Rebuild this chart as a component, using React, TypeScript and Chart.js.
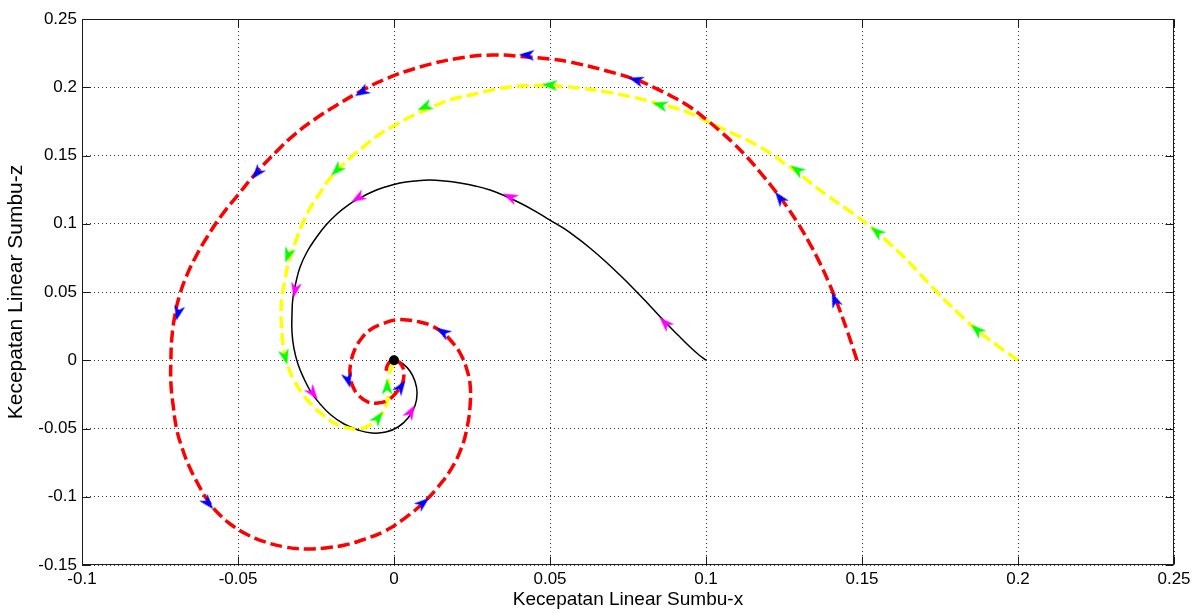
import React, { useEffect, useRef } from 'react';
import { Chart, registerables } from 'chart.js';

Chart.register(...registerables);

// Axis ticks
const xTicks = [-0.1, -0.05, 0, 0.05, 0.1, 0.15, 0.2, 0.25];
const yTicks = [-0.15, -0.1, -0.05, 0, 0.05, 0.1, 0.15, 0.2, 0.25];
const xTitle = 'Kecepatan Linear Sumbu-x';
const yTitle = 'Kecepatan Linear Sumbu-z';

// Black trajectory (start 0.1, 0)
const blackX = [0.1, 0.0974, 0.0949, 0.091, 0.0869, 0.0821, 0.0772, 0.0724, 0.0676, 0.0628, 0.0587, 0.0542, 0.05, 0.0452, 0.0404, 0.0356, 0.0308, 0.026, 0.0212, 0.0163, 0.0115, 0.0067, 0.0019, -0.0029, -0.0071, -0.0109, -0.0147, -0.0183, -0.0218, -0.025, -0.0279, -0.0301, -0.0314, -0.0324, -0.0327, -0.0327, -0.0321, -0.0308, -0.0288, -0.0266, -0.0237, -0.0202, -0.016, -0.0115, -0.0071, -0.0026, 0.0013, 0.0045, 0.0067, 0.0074, 0.0067, 0.0051, 0.0029, 0.001, 0];
const blackY = [0, 0.0046, 0.0097, 0.0185, 0.028, 0.0397, 0.0515, 0.0624, 0.0727, 0.0822, 0.0896, 0.0969, 0.1027, 0.1093, 0.1152, 0.1203, 0.1247, 0.1277, 0.1298, 0.1313, 0.132, 0.1313, 0.1298, 0.1269, 0.1233, 0.1189, 0.1137, 0.1071, 0.0991, 0.0896, 0.0793, 0.0683, 0.0573, 0.0456, 0.0332, 0.0207, 0.009, -0.0027, -0.0137, -0.0233, -0.032, -0.0401, -0.0467, -0.0511, -0.0533, -0.0526, -0.0489, -0.0423, -0.0335, -0.024, -0.0152, -0.0079, -0.0027, -0.0005, 0];
const blackArrowX = [0.0869, 0.0372, -0.0115, -0.0317, -0.026, 0.0054];
const blackArrowY = [0.0273, 0.1196, 0.1189, 0.0515, -0.024, -0.0379];

// Red trajectory (start 0.15, 0)
const redX = [0.1484, 0.1455, 0.1426, 0.1397, 0.1365, 0.133, 0.1292, 0.1253, 0.1212, 0.1173, 0.1131, 0.1087, 0.1045, 0.1003, 0.0949, 0.0894, 0.083, 0.0779, 0.0683, 0.0564, 0.05, 0.0426, 0.0317, 0.0212, 0.0083, -0.0035, -0.0099, -0.0183, -0.0253, -0.0317, -0.0375, -0.0439, -0.0503, -0.0554, -0.0599, -0.0636, -0.0665, -0.0687, -0.0702, -0.0712, -0.0715, -0.0715, -0.0708, -0.0696, -0.0679, -0.0657, -0.0628, -0.0596, -0.0558, -0.0516, -0.0468, -0.0413, -0.0349, -0.0285, -0.0221, -0.0157, -0.0093, -0.0029, 0.0035, 0.0093, 0.0141, 0.0183, 0.0215, 0.0234, 0.0244, 0.0244, 0.0234, 0.0215, 0.0189, 0.0157, 0.0122, 0.0083, 0.0042, 0.0003, -0.0038, -0.0077, -0.0103, -0.0125, -0.0138, -0.0141, -0.0131, -0.0112, -0.0083, -0.0051, -0.0019, 0.0006, 0.0026, 0.0032, 0.0026, 0.001, -0.001, -0.0022, -0.0026];
const redY = [0, 0.02, 0.0383, 0.0551, 0.0712, 0.0866, 0.1013, 0.1145, 0.1269, 0.1379, 0.1489, 0.1592, 0.1679, 0.176, 0.1855, 0.1929, 0.2002, 0.2053, 0.2119, 0.2185, 0.2207, 0.2222, 0.2236, 0.2214, 0.2148, 0.2053, 0.198, 0.187, 0.1767, 0.1657, 0.1533, 0.1379, 0.1203, 0.1057, 0.0903, 0.0756, 0.0617, 0.0478, 0.0332, 0.0163, 0.0002, -0.0167, -0.0328, -0.0511, -0.0643, -0.0775, -0.0907, -0.1031, -0.1134, -0.1214, -0.128, -0.1331, -0.1368, -0.1383, -0.1375, -0.1353, -0.131, -0.1251, -0.1156, -0.1046, -0.0929, -0.0797, -0.065, -0.0496, -0.0328, -0.0181, -0.0071, 0.0038, 0.0126, 0.02, 0.0251, 0.028, 0.0295, 0.0295, 0.0266, 0.0222, 0.0163, 0.0082, -0.0013, -0.0108, -0.0196, -0.0262, -0.0306, -0.0313, -0.0291, -0.024, -0.0174, -0.0101, -0.0042, -0.0005, -0.0005, -0.0042, -0.0086];
const redArrowX = [0.1413, 0.1237, 0.0776, 0.0426, -0.0103, -0.0439, -0.0692, -0.0596, 0.0093, 0.0157, -0.0147, 0.0022];
const redArrowY = [0.0442, 0.1188, 0.2053, 0.2236, 0.1965, 0.1372, 0.0347, -0.1046, -0.1046, 0.0207, -0.0145, -0.0196];

// Yellow trajectory (start 0.2, 0)
const yellowX = [0.2, 0.1936, 0.1872, 0.1808, 0.174, 0.1686, 0.1631, 0.159, 0.1551, 0.15, 0.1446, 0.1391, 0.134, 0.1292, 0.1253, 0.1215, 0.1173, 0.1131, 0.1083, 0.1035, 0.099, 0.0949, 0.0901, 0.0853, 0.0804, 0.0756, 0.0683, 0.0596, 0.0548, 0.05, 0.0452, 0.0404, 0.0349, 0.0298, 0.0244, 0.0189, 0.0144, 0.0099, 0.0051, 0.001, -0.0045, -0.0099, -0.0141, -0.0183, -0.0212, -0.0237, -0.0269, -0.0295, -0.0317, -0.0337, -0.0349, -0.0359, -0.0362, -0.0359, -0.0353, -0.034, -0.0321, -0.0295, -0.0263, -0.0228, -0.0186, -0.0147, -0.0115, -0.0083, -0.0054, -0.0032, -0.0019, -0.0019, -0.0016, -0.0006, 0];
const yellowY = [0, 0.0104, 0.0214, 0.0346, 0.05, 0.0632, 0.0764, 0.0852, 0.0932, 0.1027, 0.1115, 0.1203, 0.1291, 0.1379, 0.1438, 0.1504, 0.1562, 0.1614, 0.1665, 0.1716, 0.1767, 0.1811, 0.1848, 0.1877, 0.1907, 0.1932, 0.1965, 0.1994, 0.2005, 0.2013, 0.2013, 0.2009, 0.1994, 0.1972, 0.1943, 0.1914, 0.1877, 0.1833, 0.1782, 0.1731, 0.1657, 0.1562, 0.1482, 0.1386, 0.1313, 0.1225, 0.1115, 0.0991, 0.0859, 0.0727, 0.0595, 0.0463, 0.0332, 0.02, 0.0075, -0.0042, -0.0145, -0.024, -0.0328, -0.0401, -0.0467, -0.0496, -0.0504, -0.0482, -0.043, -0.0364, -0.0277, -0.0189, -0.0108, -0.0042, -0.0005];
const yellowArrowX = [0.1869, 0.1548, 0.1292, 0.0853, 0.05, 0.0099, -0.0183, -0.034, -0.0349, -0.0051, -0.0022];
const yellowArrowY = [0.0222, 0.094, 0.1394, 0.187, 0.2016, 0.1856, 0.1394, 0.0771, 0.0024, -0.0423, -0.0196];

// Equilibrium point
const originX = [0];
const originY = [0];

const zip = (xs: number[], ys: number[]) => xs.map((x, i) => ({ x, y: ys[i] }));

function makeArrowImage(color: string) {
  const c = document.createElement('canvas');
  c.width = 22;
  c.height = 22;
  const g = c.getContext('2d')!;
  g.fillStyle = color;
  g.beginPath();
  g.moveTo(11, 3);
  g.lineTo(16.5, 18.5);
  g.lineTo(11, 14);
  g.lineTo(5.5, 18.5);
  g.closePath();
  g.fill();
  return c;
}

function directionRotation(cx: number[], cy: number[]) {
  return (ctx: any) => {
    const chart = ctx.chart;
    const raw = ctx.raw;
    const xs = chart.scales.x;
    const ys = chart.scales.y;
    if (!raw || !xs || !ys) return 0;
    const ax = xs.getPixelForValue(raw.x);
    const ay = ys.getPixelForValue(raw.y);
    let best = Infinity;
    let dx = 0;
    let dy = -1;
    for (let i = 0; i < cx.length - 1; i++) {
      const x1 = xs.getPixelForValue(cx[i]);
      const y1 = ys.getPixelForValue(cy[i]);
      const x2 = xs.getPixelForValue(cx[i + 1]);
      const y2 = ys.getPixelForValue(cy[i + 1]);
      const vx = x2 - x1;
      const vy = y2 - y1;
      const len2 = vx * vx + vy * vy || 1e-9;
      let t = ((ax - x1) * vx + (ay - y1) * vy) / len2;
      t = Math.max(0, Math.min(1, t));
      const px = x1 + t * vx;
      const py = y1 + t * vy;
      const d = (ax - px) * (ax - px) + (ay - py) * (ay - py);
      if (d < best) {
        best = d;
        dx = vx;
        dy = vy;
      }
    }
    return (Math.atan2(dx, -dy) * 180) / Math.PI;
  };
}

const framePlugin = {
  id: 'matlabFrame',
  afterDatasetsDraw(chart: any) {
    const { ctx, chartArea: a, scales } = chart;
    const L = Math.round(a.left) + 0.5;
    const R = Math.round(a.right) - 0.5;
    const T = Math.round(a.top) + 0.5;
    const B = Math.round(a.bottom) - 0.5;
    const tl = 8;
    ctx.save();
    ctx.strokeStyle = '#1a1a1a';
    ctx.lineWidth = 1;
    ctx.beginPath();
    xTicks.forEach((v) => {
      const p = Math.round(scales.x.getPixelForValue(v)) + 0.5;
      ctx.moveTo(p, B);
      ctx.lineTo(p, B - tl);
      ctx.moveTo(p, T);
      ctx.lineTo(p, T + tl);
    });
    yTicks.forEach((v) => {
      const p = Math.round(scales.y.getPixelForValue(v)) + 0.5;
      ctx.moveTo(L, p);
      ctx.lineTo(L + tl, p);
      ctx.moveTo(R, p);
      ctx.lineTo(R - tl, p);
    });
    ctx.stroke();
    ctx.strokeRect(L, T, R - L, B - T);
    ctx.restore();
  },
};

const fmt = (v: number) => String(Number(Number(v).toFixed(2)));

export default function App() {
  const ref = useRef<HTMLCanvasElement>(null);

  useEffect(() => {
    if (!ref.current) return;
    Chart.defaults.font.family = '"Liberation Sans", Arial, sans-serif';
    Chart.defaults.color = '#000';

    const blue = makeArrowImage('#0000ff');
    const green = makeArrowImage('#00ff00');
    const magenta = makeArrowImage('#ff00ff');

    const curve = (data: any[], color: string, width: number, dash: number[], order: number) => ({
      type: 'line',
      data,
      showLine: true,
      fill: false,
      borderColor: color,
      borderWidth: width,
      borderDash: dash,
      pointRadius: 0,
      tension: 0.45,
      order,
    });

    const chart = new Chart(ref.current, {
      type: 'scatter',
      data: {
        datasets: [
          {
            label: 'origin',
            data: zip(originX, originY),
            pointRadius: 5,
            pointBackgroundColor: '#000',
            pointBorderWidth: 0,
            order: 0,
          } as any,
          {
            label: 'black arrows',
            data: zip(blackArrowX, blackArrowY),
            pointStyle: magenta,
            pointRadius: 7,
            rotation: directionRotation(blackX, blackY),
            order: 1,
          },
          {
            label: 'red arrows',
            data: zip(redArrowX, redArrowY),
            pointStyle: blue,
            pointRadius: 7,
            rotation: directionRotation(redX, redY),
            order: 1,
          },
          {
            label: 'yellow arrows',
            data: zip(yellowArrowX, yellowArrowY),
            pointStyle: green,
            pointRadius: 7,
            rotation: directionRotation(yellowX, yellowY),
            order: 1,
          },
          { label: 'red', ...curve(zip(redX, redY), '#ff0000', 3.5, [12, 5], 2) },
          { label: 'yellow', ...curve(zip(yellowX, yellowY), '#ffff00', 3.5, [12, 5], 3) },
          { label: 'black', ...curve(zip(blackX, blackY), '#000000', 1.5, [], 4) },
        ],
      },
      options: {
        animation: false,
        responsive: false,
        devicePixelRatio: 1,
        layout: { padding: { top: 19, right: 25, left: 0, bottom: 0 } },
        plugins: {
          legend: { display: false },
          tooltip: { enabled: false },
        },
        events: [],
        scales: {
          x: {
            type: 'linear',
            min: -0.1,
            max: 0.25,
            afterFit: (s: any) => {
              s.height = 48;
            },
            afterBuildTicks: (s: any) => {
              s.ticks = xTicks.map((v) => ({ value: v }));
            },
            ticks: {
              callback: (v: any) => fmt(v),
              font: { size: 17 },
              padding: 4,
              maxRotation: 0,
              autoSkip: false,
            },
            grid: {
              color: 'rgba(0,0,0,0.8)',
              lineWidth: 1,
              drawTicks: false,
            },
            border: { display: false, dash: [1, 3] },
            title: {
              display: true,
              text: xTitle,
              font: { size: 19 },
              padding: { top: 0, bottom: 2 },
            },
          },
          y: {
            type: 'linear',
            min: -0.15,
            max: 0.25,
            afterFit: (s: any) => {
              s.width = 82;
            },
            afterBuildTicks: (s: any) => {
              s.ticks = yTicks.map((v) => ({ value: v }));
            },
            ticks: {
              callback: (v: any) => fmt(v),
              font: { size: 17 },
              padding: 5,
              autoSkip: false,
            },
            grid: {
              color: 'rgba(0,0,0,0.8)',
              lineWidth: 1,
              drawTicks: false,
            },
            border: { display: false, dash: [1, 3] },
            title: {
              display: true,
              text: yTitle,
              font: { size: 21 },
              padding: { top: 4, bottom: 0 },
            },
          },
        },
      },
      plugins: [framePlugin],
    } as any);

    return () => chart.destroy();
  }, []);

  return (
    <canvas
      ref={ref}
      width={1199}
      height={613}
      style={{ position: 'absolute', left: 0, top: 0, display: 'block', background: '#fff' }}
    />
  );
}
